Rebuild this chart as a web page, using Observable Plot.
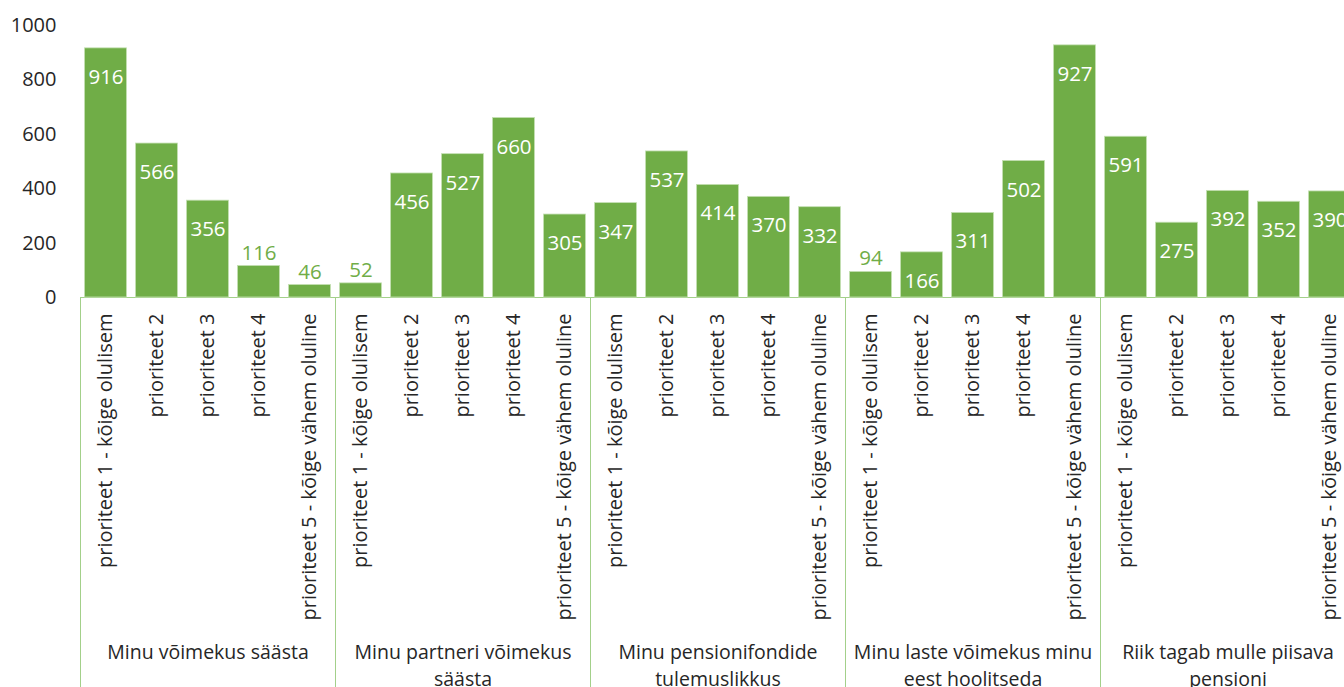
<!DOCTYPE html>
<html><head><meta charset="utf-8">
<script src="https://cdn.jsdelivr.net/npm/d3@7"></script>
<script src="https://cdn.jsdelivr.net/npm/@observablehq/plot@0.6"></script>
<style>
html,body{margin:0;padding:0;background:#fff;overflow:hidden;}
#chart{width:1344px;height:687px;overflow:hidden;}
#chart svg{display:block;max-width:none !important;}
</style></head><body><div id="chart"></div>
<script>
const groups = [
  "Minu võimekus säästa",
  "Minu partneri võimekus\nsäästa",
  "Minu pensionifondide\ntulemuslikkus",
  "Minu laste võimekus minu\neest hoolitseda",
  "Riik tagab mulle piisava\npensioni"
];
const priorities = [
  "prioriteet 1 - kõige olulisem",
  "prioriteet 2",
  "prioriteet 3",
  "prioriteet 4",
  "prioriteet 5 - kõige vähem oluline"
];
const valuesGroup1 = [916, 566, 356, 116, 46];
const valuesGroup2 = [52, 456, 527, 660, 305];
const valuesGroup3 = [347, 537, 414, 370, 332];
const valuesGroup4 = [94, 166, 311, 502, 927];
const valuesGroup5 = [591, 275, 392, 352, 390];
const yTicks = [0, 200, 400, 600, 800, 1000];

const series = [valuesGroup1, valuesGroup2, valuesGroup3, valuesGroup4, valuesGroup5];
const n = priorities.length;
const rows = [];
series.forEach((vals, g) => vals.forEach((v, p) => rows.push({g, p, i: g * n + p, priority: priorities[p], value: v})));
const groupRows = groups.map((name, g) => ({g, name, start: g * n, mid: g * n + n / 2}));

const green = "#70AD47";
const lineGreen = "#A3D08A";
const textColor = "#262626";
const font = "'Open Sans', sans-serif";
const W = 1355, H = 700, MT = 25, baseY = 297;
const isOutside = d => d.value < 150;

const chart = Plot.plot({
  width: W, height: H,
  marginLeft: 80, marginRight: 0, marginTop: MT, marginBottom: H - baseY,
  x: {domain: [0, groups.length * n], axis: null},
  y: {domain: [0, 1000], axis: null},
  style: {fontFamily: font, background: "#fff", overflow: "visible"},
  marks: [
    Plot.axisY(yTicks, {tickSize: 0, tickPadding: 24, fontSize: 20, fill: textColor, label: null, tickFormat: d => String(d)}),
    Plot.ruleX(groupRows, {x: "start", y: 0, insetBottom: -(H - baseY), stroke: lineGreen, strokeWidth: 1}),
    Plot.ruleY([0], {stroke: lineGreen, strokeWidth: 1}),
    Plot.rectY(rows, {x1: "i", x2: d => d.i + 1, y: "value", insetLeft: 4.5, insetRight: 4.5, fill: green, stroke: "#C5E0B4", strokeWidth: 0.8}),
    Plot.text(rows.filter(d => !isOutside(d)), {x: d => d.i + 0.5, y: "value", text: d => String(d.value), dy: 29, fill: "#fff", fontSize: 20.5}),
    Plot.text(rows.filter(isOutside), {x: d => d.i + 0.5, y: "value", text: d => String(d.value), dy: -13, fill: green, fontSize: 20.5}),
    Plot.text(rows, {x: d => d.i + 0.5, y: 0, text: "priority", rotate: -90, textAnchor: "end", dy: 16, fontSize: 20, fill: textColor}),
    Plot.text(groupRows, {x: "mid", y: 0, text: "name", lineAnchor: "top", dy: 343, lineHeight: 1.35, fontSize: 19.5, fill: textColor})
  ]
});
document.getElementById("chart").appendChild(chart);
</script>
</body></html>
